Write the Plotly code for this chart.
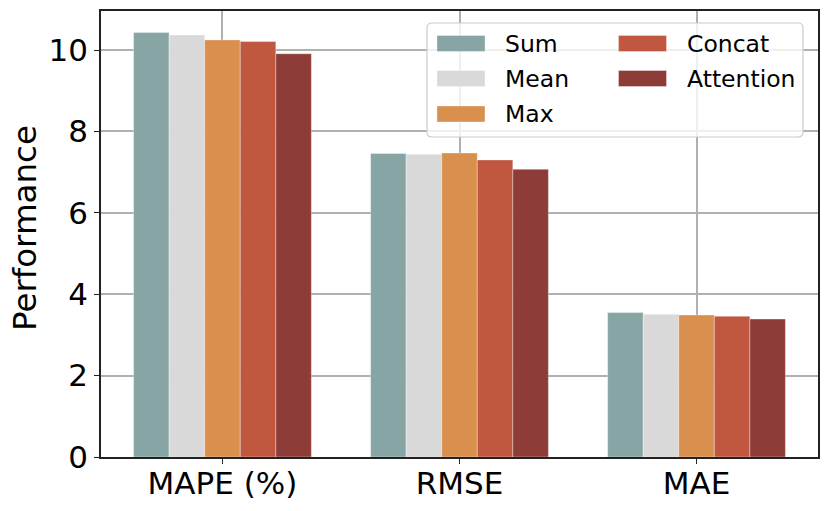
import plotly.graph_objects as go

categories = ["MAPE (%)", "RMSE", "MAE"]
series_names = ["Sum", "Mean", "Max", "Concat", "Attention"]
sum_vals = [10.43, 7.46, 3.55]
mean_vals = [10.37, 7.44, 3.51]
max_vals = [10.25, 7.47, 3.49]
concat_vals = [10.21, 7.30, 3.46]
attention_vals = [9.91, 7.07, 3.39]
colors = ["#87A5A4", "#D9D9D9", "#D98F4D", "#C0573F", "#8E3C37"]
y_ticks = [0, 2, 4, 6, 8, 10]
y_title = "Performance"

series_values = [sum_vals, mean_vals, max_vals, concat_vals, attention_vals]

W, H = 830, 511
L, R, T, B = 101, 12, 11, 54
PW, PH = W - L - R, H - T - B

def px_x(p):
    return (p - L) / PW

def px_y(p):
    return (H - B - p) / PH

FONT = "DejaVu Sans"

fig = go.Figure()
for name, vals, col in zip(series_names, series_values, colors):
    fig.add_trace(go.Bar(
        x=categories, y=vals, name=name, showlegend=False,
        marker=dict(color=col, line=dict(color="rgba(255,255,255,0.35)", width=1)),
    ))

shapes = []
annotations = []

# legend box (rounded)
x0, x1 = px_x(427), px_x(803)
y0, y1 = px_y(137), px_y(23)
rx, ry = 5 / PW, 5 / PH
path = (f"M{x0+rx},{y0} L{x1-rx},{y0} Q{x1},{y0} {x1},{y0+ry} "
        f"L{x1},{y1-ry} Q{x1},{y1} {x1-rx},{y1} L{x0+rx},{y1} "
        f"Q{x0},{y1} {x0},{y1-ry} L{x0},{y0+ry} Q{x0},{y0} {x0+rx},{y0} Z")
shapes.append(dict(type="path", xref="paper", yref="paper", path=path,
                   fillcolor="rgba(255,255,255,0.8)",
                   line=dict(color="#CCCCCC", width=1.2), layer="above"))

col_patch_x = [437, 618.5]
col_text_x = [503, 684.5]
row_y = [43.5, 78.5, 114]
for i, (name, col) in enumerate(zip(series_names, colors)):
    c = 0 if i < 3 else 1
    r = i if i < 3 else i - 3
    px0 = col_patch_x[c]
    cy = row_y[r]
    shapes.append(dict(type="rect", xref="paper", yref="paper",
                       x0=px_x(px0), x1=px_x(px0 + 48),
                       y0=px_y(cy + 8), y1=px_y(cy - 8),
                       fillcolor=col, line=dict(color="rgba(255,255,255,0.35)", width=1),
                       layer="above"))
    annotations.append(dict(xref="paper", yref="paper", x=px_x(col_text_x[c]),
                            y=px_y(cy), text=name, showarrow=False,
                            xanchor="left", yanchor="middle",
                            font=dict(family=FONT, size=23.5, color="black")))

# y-axis title
annotations.append(dict(xref="paper", yref="paper", x=px_x(25), y=px_y(228),
                        text=y_title, textangle=-90, showarrow=False,
                        xanchor="center", yanchor="middle",
                        font=dict(family=FONT, size=32.5, color="black")))

fig.update_layout(
    width=W, height=H,
    margin=dict(l=L, r=R, t=T, b=B, autoexpand=False),
    paper_bgcolor="white", plot_bgcolor="white",
    barmode="group", bargap=0.25, bargroupgap=0,
    font=dict(family=FONT, color="black"),
    shapes=shapes, annotations=annotations,
)
fig.update_xaxes(
    range=[-0.5125, 2.5125], automargin=False,
    showline=True, mirror=True, linecolor="#222222", linewidth=1.5,
    ticks="outside", ticklen=5, tickwidth=1.2, tickcolor="#222222",
    ticklabelstandoff=-7,
    showgrid=True, gridcolor="#B0B0B0", gridwidth=1.5,
    tickfont=dict(family=FONT, size=31, color="black"),
)
fig.update_yaxes(
    range=[0, 10.96], tickvals=y_ticks, automargin=False,
    showline=True, mirror=True, linecolor="#222222", linewidth=1.5,
    ticks="outside", ticklen=5, tickwidth=1.2, tickcolor="#222222",
    showgrid=True, gridcolor="#B0B0B0", gridwidth=1.5, zeroline=False,
    tickfont=dict(family=FONT, size=31, color="black"),
)

fig.write_html(
    "out.html",
    config={"displayModeBar": False},
    post_script="document.body.style.margin='0';document.body.style.overflow='hidden';",
)
